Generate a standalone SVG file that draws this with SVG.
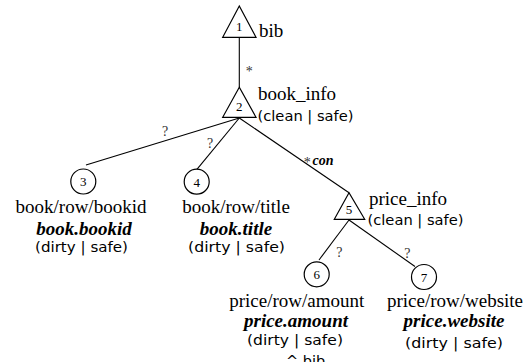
<svg xmlns="http://www.w3.org/2000/svg" width="531" height="362" viewBox="0 0 531 362">
<style>
.shape{fill:#fff;stroke:#000;stroke-width:1.2}
.edge{stroke:#000;stroke-width:1.1;fill:none}
.num{font-family:"Liberation Serif","DejaVu Serif",serif;font-size:13px;fill:#000;text-anchor:middle}
.lbl{font-family:"Liberation Serif","DejaVu Serif",serif;font-size:19px;fill:#000}
.bi{font-family:"Liberation Serif","DejaVu Serif",serif;font-size:19px;font-weight:700;font-style:italic;fill:#000;text-anchor:middle}
.con{font-family:"Liberation Serif","DejaVu Serif",serif;font-size:14px;font-weight:700;font-style:italic;fill:#000}
.st{font-family:"DejaVu Sans","Noto Sans",sans-serif;font-size:14.5px;fill:#000}
.q{font-family:"Liberation Serif","DejaVu Serif",serif;font-size:14px;fill:#333;text-anchor:middle}
.mid{text-anchor:middle}
</style>
<rect width="531" height="362" fill="#fff"/>
<g id="connectors">
<line class="edge" x1="239.3" y1="37.3" x2="239.3" y2="87.3"/>
<text class="q" x="249.3" y="76">*</text>
<line class="edge" x1="239.3" y1="118" x2="86" y2="165"/>
<text class="q" x="165" y="136">?</text>
<line class="edge" x1="239.3" y1="118" x2="196.7" y2="169.7"/>
<text class="q" x="210" y="148">?</text>
<line class="edge" x1="239.3" y1="118" x2="349" y2="192.7"/>
<text class="q" x="307.3" y="167">*</text>
<text class="con" x="312.5" y="165">con</text>
<line class="edge" x1="349" y1="220" x2="319" y2="260"/>
<text class="q" x="339.3" y="257">?</text>
<line class="edge" x1="349" y1="220" x2="415" y2="266.5"/>
<text class="q" x="407.3" y="258">?</text>
</g>
<g id="node1">
<polygon class="shape" points="239.3,6 222.7,37.3 256,37.3"/>
<text class="num" x="239.3" y="31">1</text>
<text class="lbl" x="259" y="36.5">bib</text>
</g>
<g id="node2">
<polygon class="shape" points="239.3,87.3 222.7,117.3 256,117.3"/>
<text class="num" x="239.3" y="111">2</text>
<text class="lbl" x="258" y="100">book_info</text>
<text class="st" x="257.5" y="121" textLength="96" lengthAdjust="spacingAndGlyphs">(clean | safe)</text>
</g>
<g id="node3">
<circle class="shape" cx="83.3" cy="181.5" r="12.5"/>
<text class="num" x="83.3" y="186">3</text>
<text class="lbl mid" x="81" y="212.5">book/row/bookid</text>
<text class="bi" x="84" y="235">book.bookid</text>
<text class="st mid" x="81.5" y="252" textLength="93" lengthAdjust="spacingAndGlyphs">(dirty | safe)</text>
</g>
<g id="node4">
<circle class="shape" cx="196.7" cy="181.7" r="12.5"/>
<text class="num" x="196.7" y="186.5">4</text>
<text class="lbl mid" x="236" y="212.5">book/row/title</text>
<text class="bi" x="236" y="235">book.title</text>
<text class="st mid" x="236.5" y="252" textLength="97" lengthAdjust="spacingAndGlyphs">(dirty | safe)</text>
</g>
<g id="node5">
<polygon class="shape" points="349,192.7 334.3,219.3 364.7,219.3"/>
<text class="num" x="349" y="214">5</text>
<text class="lbl" x="369" y="205">price_info</text>
<text class="st" x="367.5" y="225" textLength="96" lengthAdjust="spacingAndGlyphs">(clean | safe)</text>
</g>
<g id="node6">
<circle class="shape" cx="316.7" cy="274.3" r="12.5"/>
<text class="num" x="316.7" y="279">6</text>
<text class="lbl mid" x="296.7" y="306.7">price/row/amount</text>
<text class="bi" x="296" y="326.5">price.amount</text>
<text class="st mid" x="295" y="345" textLength="96" lengthAdjust="spacingAndGlyphs">(dirty | safe)</text>
<text class="st" x="286" y="366">^ bib</text>
</g>
<g id="node7">
<circle class="shape" cx="424" cy="277" r="12.5"/>
<text class="num" x="424" y="281.7">7</text>
<text class="lbl mid" x="455" y="306.7">price/row/website</text>
<text class="bi" x="454" y="326.5">price.website</text>
<text class="st mid" x="454" y="348" textLength="98" lengthAdjust="spacingAndGlyphs">(dirty | safe)</text>
</g>
</svg>
